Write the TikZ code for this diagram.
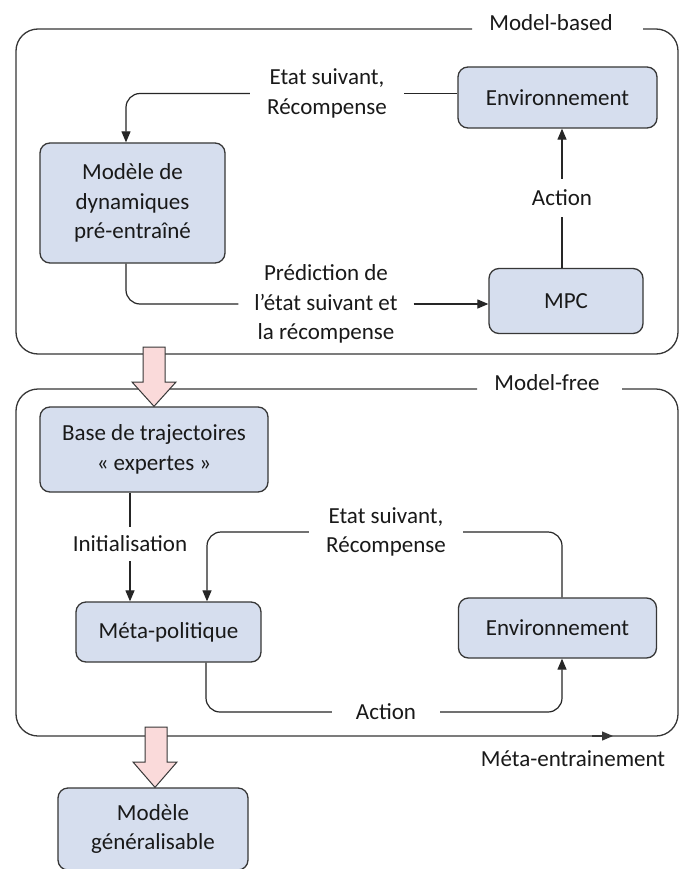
\documentclass[tikz,border=0pt]{standalone}
\usepackage{fontspec}
\setmainfont{Carlito}
\usetikzlibrary{arrows.meta}
\definecolor{boxfill}{RGB}{214,222,238}
\definecolor{boxdraw}{RGB}{55,55,55}
\definecolor{pinkfill}{RGB}{250,218,218}
\definecolor{txt}{RGB}{25,25,25}
\begin{document}
\begin{tikzpicture}[x=1pt,y=-1pt,
  font=\fontsize{23}{29.5}\selectfont, text=txt,
  blk/.style={draw=boxdraw, fill=boxfill, rounded corners=10pt, line width=1.3pt, align=center, inner sep=0pt},
  conn/.style={line width=1.2pt, draw=black!85, rounded corners=14pt},
  arr/.style={-{Triangle[length=11pt,width=9pt]}},
  frame/.style={line width=1.3pt, draw=boxdraw, rounded corners=22pt},
  lbl/.style={align=center, inner xsep=17pt, inner ysep=2pt},
  vlbl/.style={align=center, inner xsep=4pt, inner ysep=11pt},
  ttl/.style={inner sep=0pt},
  fat/.style={draw=boxdraw, fill=pinkfill, line width=1pt, line join=miter}]

\useasboundingbox (0,0) rectangle (680,869);
\clip (0,0) rectangle (680,869);
\fill[white] (0,0) rectangle (680,869);

% ---------- frames ----------
\draw[frame] (472,29) -- (16,29) -- (16,354) -- (678,354) -- (678,29) -- (643,29);
\node[ttl] (mb) at (551,23) {Model-based};
\draw[frame] (477,389) -- (16,389) -- (16,736) -- (678,736) -- (678,389) -- (622,389);
\node[ttl] (mf) at (547,383) {Model-free};
\coordinate (mtA) at (592,736);
\coordinate (mtB) at (613,736);
\draw[line width=1.3pt, draw=boxdraw, arr] (mtA) -- (mtB);
\node[ttl] (mt) at (573,759) {Méta-entrainement};

% ---------- Model-based nodes ----------
\node[blk, minimum width=199pt, minimum height=61pt] (env1) at (557.5,97.5) {Environnement};
\node[blk, minimum width=185pt, minimum height=120pt] (mod) at (132.5,203) {Modèle de\\dynamiques\\pré-entraîné};
\node[blk, minimum width=154pt, minimum height=65pt] (mpc) at (566,301) {MPC};

\node[lbl] (lab1) at (327,93.5) {Etat suivant,\\Récompense};
\node[vlbl] (act1) at (562,198) {Action};
\node[lbl, inner xsep=16pt] (pred) at (326,304) {Prédiction de\\l’état suivant et\\la récompense};

\draw[conn] (env1.west |- lab1.east) -- (lab1.east);
\draw[conn, arr] (lab1.west) -| ([xshift=-6.5pt]mod.north);
\draw[conn] ([xshift=-6.5pt]mod.south) |- (pred.west);
\draw[conn, arr] (pred.east) -- (pred.east -| mpc.west);
\draw[conn] (mpc.north -| act1.south) -- (act1.south);
\draw[conn, arr] (act1.north) -- (act1.north |- env1.south);

% ---------- Model-free nodes ----------
\node[blk, minimum width=228pt, minimum height=85pt] (base) at (154,449.5) {Base de trajectoires\\« expertes »};
\node[blk, minimum width=185pt, minimum height=60pt] (meta) at (168.5,632) {Méta-politique};
\node[blk, minimum width=198pt, minimum height=60pt] (env2) at (557.5,628) {Environnement};

\node[vlbl, inner ysep=9pt] (init) at (130,544) {Initialisation};
\node[lbl] (lab2) at (386,532) {Etat suivant,\\Récompense};
\node[lbl, inner xsep=24pt] (act2) at (386,712) {Action};

\draw[conn] (init.north |- base.south) -- (init.north);
\draw[conn, arr] (init.south) -- (init.south |- meta.north);
\draw[conn, arr] (lab2.west) -| ([xshift=38.5pt]meta.north);
\draw[conn] (lab2.east) -| ([xshift=4.5pt]env2.north);
\draw[conn] ([xshift=37.5pt]meta.south) |- (act2.west);
\draw[conn, arr] (act2.east) -| ([xshift=4.5pt]env2.south);

% ---------- bottom node ----------
\node[blk, minimum width=190pt, minimum height=82pt] (gen) at (153,829) {Modèle\\généralisable};

% ---------- fat arrows ----------
\draw[fat] (143,347) -- (165,347) -- (165,382) -- (176,382) -- (base.north -| 154,0) -- (132,382) -- (143,382) -- cycle;
\draw[fat] (145,727) -- (167,727) -- (167,762) -- (177,762) -- (gen.north -| 155,0) -- (133,762) -- (145,762) -- cycle;
\end{tikzpicture}
\end{document}
